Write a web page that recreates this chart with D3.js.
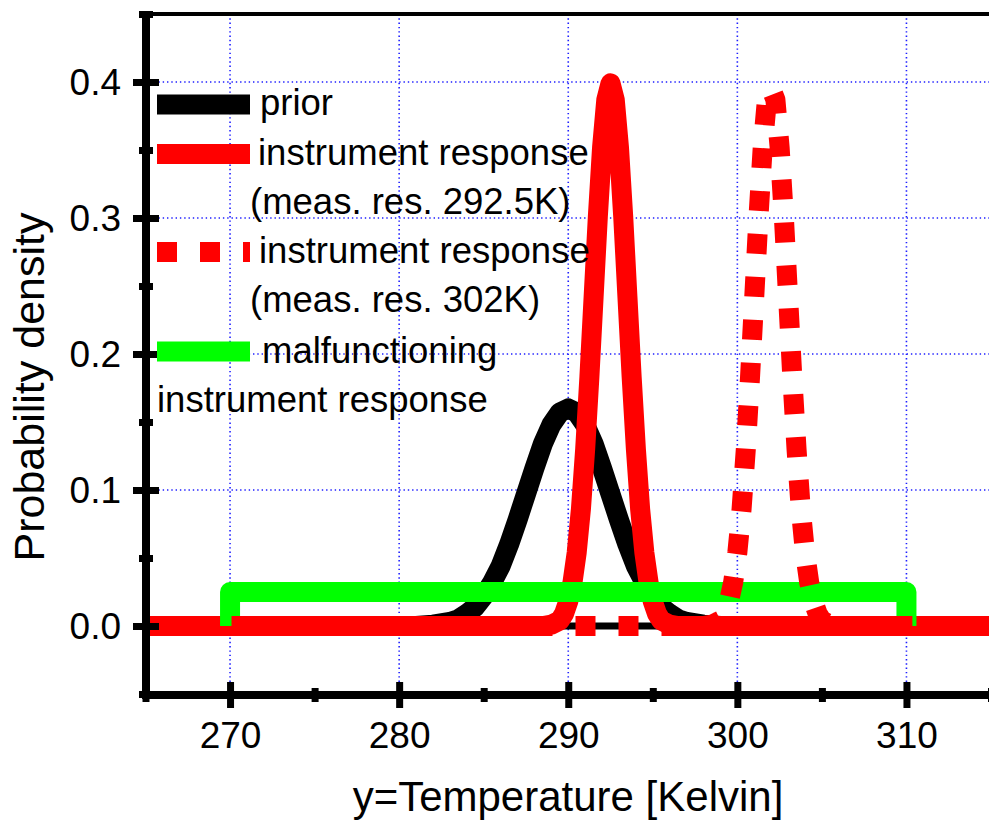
<!DOCTYPE html>
<html>
<head>
<meta charset="utf-8">
<script src="https://cdn.jsdelivr.net/npm/d3@7"></script>
<style>
  html, body { margin: 0; padding: 0; background: #fff; }
  svg { display: block; font-family: "Liberation Sans", Arial, Helvetica, sans-serif; }
</style>
</head>
<body>
<svg id="chart" width="989" height="821"></svg>
<script>
// ---------------- data ----------------
const xDomain = [265, 315];
const yDomain = [-0.05, 0.45];
const xMajorTicks = [270, 280, 290, 300, 310];
const xMinorTicks = [265, 275, 285, 295, 305, 315];
const yMajorTicks = [0.0, 0.1, 0.2, 0.3, 0.4];
const yMinorTicks = [-0.05, 0.05, 0.15, 0.25, 0.35, 0.45];

// prior
const priorX = [265, 280, 281, 282, 283, 283.5, 284, 284.5, 285, 285.5, 286, 286.5, 287, 287.5, 288, 288.5, 289, 289.5, 290,
  290.5, 291, 291.5, 292, 292.5, 293, 293.5, 294, 294.5, 295, 295.5, 296, 296.5, 297, 298, 299, 300, 315];
const priorY = [0, 0, 0, 0.001, 0.003, 0.005, 0.009, 0.014, 0.022, 0.032, 0.044, 0.060, 0.078, 0.097, 0.116, 0.134, 0.148, 0.157, 0.160,
  0.157, 0.148, 0.134, 0.116, 0.097, 0.078, 0.060, 0.044, 0.032, 0.022, 0.014, 0.009, 0.005, 0.003, 0.001, 0, 0, 0];

// instrument response (meas. res. 292.5K)
const resp1X = [265, 288.5, 289, 289.5, 289.75, 290, 290.25, 290.5, 290.75, 291, 291.25, 291.5, 291.75, 292, 292.25, 292.5,
  292.75, 293, 293.25, 293.5, 293.75, 294, 294.25, 294.5, 294.75, 295, 295.25, 295.5, 296, 296.5, 315];
const resp1Y = [0, 0, 0.001, 0.004, 0.009, 0.018, 0.032, 0.054, 0.086, 0.130, 0.183, 0.242, 0.301, 0.352, 0.387, 0.399,
  0.387, 0.352, 0.301, 0.242, 0.183, 0.130, 0.086, 0.054, 0.032, 0.018, 0.009, 0.004, 0.001, 0, 0];

// instrument response (meas. res. 302K)
const resp2X = [265, 298, 298.5, 299, 299.25, 299.5, 299.75, 300, 300.25, 300.5, 300.75, 301, 301.25, 301.5, 301.75, 302,
  302.25, 302.5, 302.75, 303, 303.25, 303.5, 303.75, 304, 304.25, 304.5, 304.75, 305, 305.5, 306, 315];
const resp2Y = [0, 0, 0.001, 0.004, 0.009, 0.018, 0.032, 0.054, 0.086, 0.130, 0.183, 0.242, 0.301, 0.352, 0.387, 0.395,
  0.387, 0.352, 0.301, 0.242, 0.183, 0.130, 0.086, 0.054, 0.032, 0.018, 0.009, 0.004, 0.001, 0, 0];

// malfunctioning instrument response (uniform)
const malfX = [270, 270, 310, 310];
const malfY = [0, 0.025, 0.025, 0];

// zero reference line
const zeroX = [265, 315];
const zeroY = [0, 0];

const legendLabels = [
  ["prior"],
  ["instrument response", "(meas. res. 292.5K)"],
  ["instrument response", "(meas. res. 302K)"],
  ["malfunctioning", "instrument response"]
];

// ---------------- drawing ----------------
const svg = d3.select("#chart");
const x = d3.scaleLinear().domain(xDomain).range([145.5, 991]);
const y = d3.scaleLinear().domain(yDomain).range([694, 14]);

const zip = (xs, ys) => xs.map((v, i) => ({x: v, y: ys[i]}));
const line = d3.line().x(d => x(d.x)).y(d => y(d.y));

// grid
const grid = svg.append("g").attr("stroke", "#1f1fff").attr("stroke-width", 1.6).attr("stroke-dasharray", "1.4,2.9");
grid.selectAll("line.v").data(xMajorTicks).join("line").attr("class", "v")
  .attr("x1", d => x(d)).attr("x2", d => x(d)).attr("y1", y(0.45)).attr("y2", y(-0.05));
grid.selectAll("line.h").data(yMajorTicks).join("line").attr("class", "h")
  .attr("x1", x(265)).attr("x2", x(315)).attr("y1", d => y(d)).attr("y2", d => y(d));

// curves
const curves = svg.append("g").attr("fill", "none").attr("stroke-linejoin", "round");
curves.append("path").datum(zip(zeroX, zeroY)).attr("d", line).attr("stroke", "#000").attr("stroke-width", 7);
curves.append("path").datum(zip(priorX, priorY)).attr("d", line).attr("stroke", "#000").attr("stroke-width", 20);
curves.append("path").datum(zip(resp1X, resp1Y)).attr("d", line).attr("stroke", "#ff0000").attr("stroke-width", 20);
curves.append("path").datum(zip(malfX, malfY)).attr("d", line).attr("stroke", "#00ff00").attr("stroke-width", 20);
curves.append("path").datum(zip(resp2X, resp2Y)).attr("d", line).attr("stroke", "#ff0000").attr("stroke-width", 20)
  .attr("stroke-dasharray", "20,23");

// axes frame
const frame = svg.append("g").attr("stroke", "#000");
frame.append("line").attr("x1", x(265) - 4).attr("x2", 989).attr("y1", y(0.45)).attr("y2", y(0.45)).attr("stroke-width", 4);
frame.append("line").attr("x1", x(265) + 0.5).attr("x2", x(265) + 0.5).attr("y1", y(0.45)).attr("y2", y(-0.05) + 5).attr("stroke-width", 8);
frame.append("line").attr("x1", x(265) - 3.5).attr("x2", 989).attr("y1", y(-0.05) + 1).attr("y2", y(-0.05) + 1).attr("stroke-width", 8);

// bottom axis (major)
const fontTick = 37;
const gx = svg.append("g").attr("transform", `translate(0,${y(-0.05) + 1})`)
  .call(d3.axisBottom(x).tickValues(xMajorTicks).tickFormat(d3.format("d")).tickSizeOuter(0));
gx.select(".domain").remove();
gx.selectAll(".tick line").attr("y1", -13).attr("y2", 13).attr("stroke", "#000").attr("stroke-width", 7);
gx.selectAll(".tick text").attr("y", 53).attr("dy", null).attr("fill", "#000")
  .style("font-size", fontTick + "px").style("font-family", "Liberation Sans, Arial, sans-serif");
const gx2 = svg.append("g").attr("transform", `translate(0,${y(-0.05) + 1})`)
  .call(d3.axisBottom(x).tickValues(xMinorTicks).tickFormat("").tickSizeOuter(0));
gx2.select(".domain").remove();
gx2.selectAll(".tick line").attr("y1", -7).attr("y2", 7).attr("stroke", "#000").attr("stroke-width", 7);

// left axis
const gy = svg.append("g").attr("transform", `translate(${x(265) + 0.5},0)`)
  .call(d3.axisLeft(y).tickValues(yMajorTicks).tickFormat(d3.format(".1f")).tickSizeOuter(0));
gy.select(".domain").remove();
gy.selectAll(".tick line").attr("x1", -13).attr("x2", 13).attr("stroke", "#000").attr("stroke-width", 7);
gy.selectAll(".tick text").attr("x", -25).attr("dy", "0.34em").attr("fill", "#000")
  .style("font-size", fontTick + "px").style("font-family", "Liberation Sans, Arial, sans-serif");
const gy2 = svg.append("g").attr("transform", `translate(${x(265) + 0.5},0)`)
  .call(d3.axisLeft(y).tickValues(yMinorTicks).tickFormat("").tickSizeOuter(0));
gy2.select(".domain").remove();
gy2.selectAll(".tick line").attr("x1", -7).attr("x2", 7).attr("stroke", "#000").attr("stroke-width", 7);

// axis titles
svg.append("text").attr("x", 568).attr("y", 811).attr("text-anchor", "middle")
  .style("font-size", "42px").text("y=Temperature [Kelvin]");
svg.append("text").attr("transform", "translate(44,387) rotate(-90)").attr("text-anchor", "middle")
  .style("font-size", "43px").text("Probability density");

// legend
const lg = svg.append("g");
const legFont = "36.5px";
const legItems = [
  {color: "#000", dash: null, cy: 104.5},
  {color: "#ff0000", dash: null, cy: 154},
  {color: "#ff0000", dash: "20,23", cy: 252},
  {color: "#00ff00", dash: null, cy: 351.5}
];
legItems.forEach(it => {
  lg.append("line").attr("x1", 157).attr("x2", 250).attr("y1", it.cy).attr("y2", it.cy)
    .attr("stroke", it.color).attr("stroke-width", 20).attr("stroke-dasharray", it.dash);
});
const legTexts = [
  {t: legendLabels[0][0], x: 260, y: 115},
  {t: legendLabels[1][0], x: 258, y: 165},
  {t: legendLabels[1][1], x: 250, y: 214},
  {t: legendLabels[2][0], x: 259, y: 263},
  {t: legendLabels[2][1], x: 250, y: 312},
  {t: legendLabels[3][0], x: 262, y: 363},
  {t: legendLabels[3][1], x: 157, y: 412}
];
legTexts.forEach(d => {
  lg.append("text").attr("x", d.x).attr("y", d.y).style("font-size", legFont).text(d.t);
});
</script>
</body>
</html>
